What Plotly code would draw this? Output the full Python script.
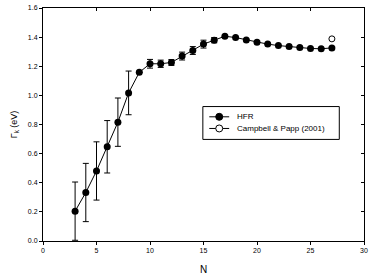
import plotly.graph_objects as go

N = [3, 4, 5, 6, 7, 8, 9, 10, 11, 12, 13, 14, 15, 16, 17, 18, 19, 20, 21, 22, 23, 24, 25, 26, 27]
gamma = [0.205, 0.333, 0.481, 0.647, 0.816, 1.017, 1.158, 1.217, 1.217, 1.226, 1.270, 1.308,
         1.352, 1.379, 1.406, 1.397, 1.381, 1.365, 1.352, 1.342, 1.335, 1.328, 1.322, 1.320, 1.326]
gamma_err = [0.20, 0.20, 0.20, 0.18, 0.166, 0.15, 0.0, 0.03, 0.025, 0.02, 0.027, 0.027,
             0.027, 0.018, 0.0, 0.0, 0.0, 0.0, 0.0, 0.0, 0.0, 0.0, 0.0, 0.0, 0.0]
cp_N = [27]
cp_gamma = [1.388]
legend_labels = ["HFR", "Campbell & Papp (2001)"]

x_ticks = [0, 5, 10, 15, 20, 25, 30]
y_ticks = [0.0, 0.2, 0.4, 0.6, 0.8, 1.0, 1.2, 1.4, 1.6]

font = "Liberation Sans, Arial, sans-serif"

fig = go.Figure()
fig.add_trace(go.Scatter(
    x=N, y=gamma, mode="lines+markers", name=legend_labels[0],
    line=dict(color="black", width=1),
    marker=dict(color="black", size=7),
    error_y=dict(type="data", array=gamma_err, color="black", thickness=1, width=3),
))
fig.add_trace(go.Scatter(
    x=cp_N, y=cp_gamma, mode="markers", name=legend_labels[1],
    marker=dict(color="white", size=6, line=dict(color="black", width=1)),
))
# invisible trace to host the mirrored inside-tick axes
fig.add_trace(go.Scatter(x=[0], y=[0], xaxis="x2", yaxis="y2", mode="markers",
                         marker=dict(opacity=0), showlegend=False, hoverinfo="skip"))

axis_common = dict(showgrid=False, zeroline=False, showline=True, linecolor="black", linewidth=1,
                   tickcolor="black", ticklen=3, tickwidth=1, ticklabeloverflow="allow",
                   tickfont=dict(family=font, size=7, color="black"))

# Manual legend (paper coordinates of the plot area)
box = dict(x0=0.498, x1=0.923, y0=0.436, y1=0.577)
rows_y = [0.533, 0.483]
line_x = (0.518, 0.580)
mark_x = 0.549
text_x = 0.597

shapes = [dict(type="rect", xref="paper", yref="paper", **box,
               line=dict(color="black", width=1), fillcolor="white", layer="above")]
annotations = []
for i, (lab, yy) in enumerate(zip(legend_labels, rows_y)):
    shapes.append(dict(type="line", xref="paper", yref="paper", x0=line_x[0], x1=line_x[1],
                       y0=yy, y1=yy, line=dict(color="black", width=1), layer="above"))
    shapes.append(dict(type="circle", xref="paper", yref="paper", xsizemode="pixel", ysizemode="pixel",
                       xanchor=mark_x, yanchor=yy, x0=-3.5, x1=3.5, y0=-3.5, y1=3.5,
                       fillcolor="black" if i == 0 else "white",
                       line=dict(color="black", width=1), layer="above"))
    annotations.append(dict(x=text_x, y=yy, xref="paper", yref="paper", text=lab, showarrow=False,
                            xanchor="left", yanchor="middle",
                            font=dict(family=font, size=8, color="black")))

fig.update_layout(
    width=370, height=275,
    margin=dict(l=43, r=2, t=8, b=33),
    paper_bgcolor="white", plot_bgcolor="white",
    font=dict(family=font, color="black"),
    showlegend=False,
    shapes=shapes, annotations=annotations,
    xaxis=dict(range=[0, 30], tickvals=x_ticks, ticks="outside",
               title=dict(text="N", font=dict(family=font, size=10, color="black"), standoff=12),
               **axis_common),
    yaxis=dict(range=[0, 1.6], tickvals=y_ticks, tickformat=".1f", ticks="outside",
               title=dict(text="Γ<sub>k</sub> (eV)", font=dict(family=font, size=9, color="black"), standoff=8),
               **axis_common),
    xaxis2=dict(range=[0, 30], tickvals=x_ticks, ticks="inside", side="top", overlaying="x",
                showticklabels=False, **axis_common),
    yaxis2=dict(range=[0, 1.6], tickvals=y_ticks, ticks="inside", side="right", overlaying="y",
                showticklabels=False, **axis_common),
)

fig.write_html("out.html")
